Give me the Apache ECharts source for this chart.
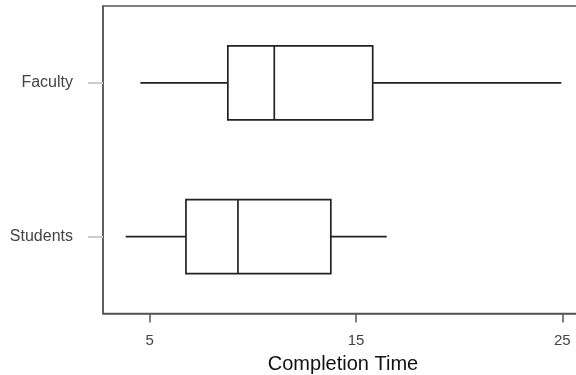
<!DOCTYPE html>
<html>
<head>
<meta charset="utf-8">
<script src="https://cdn.jsdelivr.net/npm/echarts@6/dist/echarts.min.js"></script>
<style>
  html, body { margin: 0; padding: 0; background: #fff; }
  #chart { width: 576px; height: 375px; }
</style>
</head>
<body>
<div id="chart"></div>
<script>
  // five-number summaries
  const categories = ["Students", "Faculty"];
  const whiskerLow = [3.84, 4.55];
  const q1 = [6.76, 8.79];
  const median = [9.28, 11.04];
  const q3 = [13.78, 15.81];
  const whiskerHigh = [16.49, 24.95];
  const xTicks = [5, 15, 25];

  const boxData = categories.map((c, i) => [
    i, whiskerLow[i], q1[i], median[i], q3[i], whiskerHigh[i],
  ]);

  const lineStyle = { stroke: "#222", lineWidth: 1.7 };

  function renderBox(params, api) {
    const cat = api.value(0);
    const lo = api.coord([api.value(1), cat]);
    const a = api.coord([api.value(2), cat]);
    const m = api.coord([api.value(3), cat]);
    const b = api.coord([api.value(4), cat]);
    const hi = api.coord([api.value(5), cat]);
    const half = api.size([0, 1])[1] * 0.241;
    const y = lo[1];
    return {
      type: "group",
      children: [
        { type: "line", shape: { x1: lo[0], y1: y, x2: a[0], y2: y }, style: lineStyle },
        { type: "line", shape: { x1: b[0], y1: y, x2: hi[0], y2: y }, style: lineStyle },
        {
          type: "rect",
          shape: { x: a[0], y: y - half, width: b[0] - a[0], height: half * 2 },
          style: { fill: "#fff", stroke: "#222", lineWidth: 1.7 },
        },
        { type: "line", shape: { x1: m[0], y1: y - half, x2: m[0], y2: y + half }, style: lineStyle },
      ],
    };
  }

  const chart = echarts.init(document.getElementById("chart"), null, { renderer: "canvas" });

  chart.setOption({
    animation: false,
    backgroundColor: "#fff",
    grid: {
      left: 103,
      top: 6,
      width: 480,
      height: 307.5,
      show: true,
      borderColor: "#555",
      borderWidth: 1.5,
      containLabel: false,
      outerBoundsMode: "none",
    },
    xAxis: {
      type: "value",
      min: 2.74,
      max: 26,
      name: "Completion Time",
      nameLocation: "middle",
      nameGap: 41,
      nameTextStyle: { fontFamily: "Liberation Sans", fontSize: 20, color: "#111" },
      axisLine: { show: true, lineStyle: { color: "#555", width: 1.5 } },
      axisTick: { show: true, customValues: xTicks, length: 9, lineStyle: { color: "#555", width: 1.5 } },
      axisLabel: {
        customValues: xTicks,
        margin: 20,
        fontFamily: "Liberation Sans",
        fontSize: 15,
        color: "#444",
      },
      splitLine: { show: false },
    },
    yAxis: {
      type: "category",
      data: categories,
      axisLine: { show: true, lineStyle: { color: "#555", width: 1.5 } },
      axisTick: { show: true, alignWithLabel: true, length: 15, lineStyle: { color: "#ccc", width: 2 } },
      axisLabel: {
        margin: 30,
        fontFamily: "Liberation Sans",
        fontSize: 16,
        color: "#444",
      },
      splitLine: { show: false },
    },
    series: [
      {
        type: "custom",
        renderItem: renderBox,
        encode: { x: [1, 2, 3, 4, 5], y: 0 },
        data: boxData,
        clip: false,
      },
    ],
  });
</script>
</body>
</html>
